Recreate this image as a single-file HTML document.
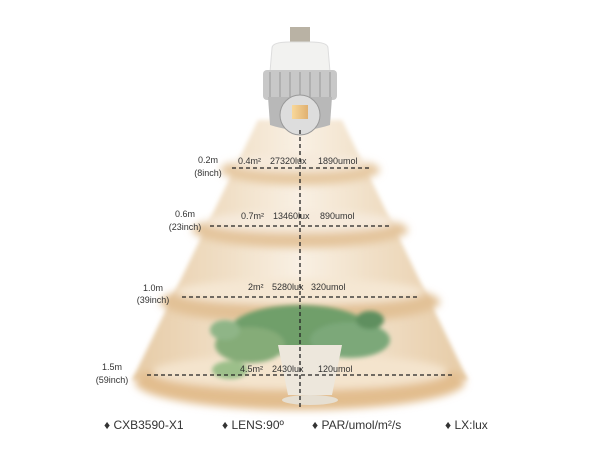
<!DOCTYPE html>
<html><head><meta charset="utf-8"><style>
body{margin:0;background:#fff}
svg{display:block;font-family:"Liberation Sans",sans-serif}
</style></head><body>
<svg width="600" height="450" viewBox="0 0 600 450">
<defs>
<linearGradient id="cone" x1="0" x2="1" y1="0" y2="0">
<stop offset="0" stop-color="#e6cba6"/><stop offset="0.3" stop-color="#f1e0c8"/><stop offset="0.5" stop-color="#f9f0e4"/><stop offset="0.7" stop-color="#f1e0c8"/><stop offset="1" stop-color="#e6cba6"/>
</linearGradient>
<linearGradient id="lens" x1="0" x2="1">
<stop offset="0" stop-color="#f8d89a"/><stop offset="1" stop-color="#e0b070"/>
</linearGradient>
<filter id="b" x="-20%" y="-50%" width="140%" height="200%"><feGaussianBlur stdDeviation="4"/></filter>
<filter id="b2" x="-20%" y="-50%" width="140%" height="200%"><feGaussianBlur stdDeviation="2"/></filter>
</defs>
<g filter="url(#b2)">
<polygon points="258,120 342,120 468,380 132,380" fill="url(#cone)"/>
</g>
<g filter="url(#b)">
<ellipse cx="300" cy="382" rx="165" ry="28" fill="#e2bd8e"/>
<ellipse cx="300" cy="372" rx="148" ry="18" fill="#f4e4cd"/>
<ellipse cx="300" cy="170" rx="80" ry="15" fill="#e6c9a2"/>
<ellipse cx="300" cy="163" rx="68" ry="9" fill="#f6eadb"/>
<ellipse cx="300" cy="230" rx="108" ry="18" fill="#e4c59c"/>
<ellipse cx="300" cy="222" rx="95" ry="11" fill="#f6eadb"/>
<ellipse cx="300" cy="302" rx="140" ry="22" fill="#e2c196"/>
<ellipse cx="300" cy="292" rx="125" ry="13" fill="#f5e7d3"/>
</g>
<!-- plant -->
<g filter="url(#b2)">
<ellipse cx="300" cy="330" rx="70" ry="25" fill="#6f9f6a"/>
<ellipse cx="250" cy="345" rx="35" ry="18" fill="#85ac78"/>
<ellipse cx="350" cy="340" rx="40" ry="18" fill="#7ca879"/>
<ellipse cx="225" cy="330" rx="15" ry="10" fill="#8fb587"/>
<ellipse cx="370" cy="320" rx="14" ry="9" fill="#5e8f5e"/>
<ellipse cx="230" cy="370" rx="18" ry="9" fill="#9cbf8a"/>
</g>
<path d="M278,345 L342,345 L332,395 L288,395 Z" fill="#ede7dc"/>
<ellipse cx="310" cy="400" rx="28" ry="5" fill="#e6dfd2"/>
<!-- lamp -->
<rect x="290" y="27" width="20" height="16" fill="#b9b2a4"/>
<path d="M272,48 Q272,42 290,42 L310,42 Q328,42 328,48 L330,72 L270,72 Z" fill="#f2f2f0" stroke="#ddd"/>
<rect x="263" y="70" width="74" height="30" rx="4" fill="#c8c8c8"/>
<g stroke="#999" stroke-width="1">
<line x1="270" y1="72" x2="270" y2="98"/><line x1="280" y1="72" x2="280" y2="98"/><line x1="290" y1="72" x2="290" y2="98"/><line x1="300" y1="72" x2="300" y2="98"/><line x1="310" y1="72" x2="310" y2="98"/><line x1="320" y1="72" x2="320" y2="98"/><line x1="330" y1="72" x2="330" y2="98"/>
</g>
<path d="M268,97 L332,97 L330,125 Q300,135 270,125 Z" fill="#b8b8b8"/>
<circle cx="300" cy="115" r="20" fill="#ddd" stroke="#999"/>
<rect x="292" y="105" width="16" height="14" fill="url(#lens)"/>
<!-- dashed lines -->
<g stroke="#222" stroke-width="1.3" stroke-dasharray="4,3" fill="none">
<line x1="300" y1="130" x2="300" y2="410"/>
<line x1="232" y1="168" x2="370" y2="168"/>
<line x1="210" y1="226" x2="390" y2="226"/>
<line x1="182" y1="297" x2="418" y2="297"/>
<line x1="147" y1="375" x2="455" y2="375"/>
</g>
<g font-size="9" fill="#333">
<text x="208" y="163" text-anchor="middle">0.2m</text><text x="208" y="176" text-anchor="middle">(8inch)</text>
<text x="185" y="217" text-anchor="middle">0.6m</text><text x="185" y="230" text-anchor="middle">(23inch)</text>
<text x="153" y="291" text-anchor="middle">1.0m</text><text x="153" y="303" text-anchor="middle">(39inch)</text>
<text x="112" y="370" text-anchor="middle">1.5m</text><text x="112" y="383" text-anchor="middle">(59inch)</text>
<text x="238" y="164">0.4m²  <tspan x="270">27320lux</tspan><tspan x="318">1890umol</tspan></text>
<text x="241" y="219">0.7m²<tspan x="273">13460lux</tspan><tspan x="320">890umol</tspan></text>
<text x="248" y="290">2m²<tspan x="272">5280lux</tspan><tspan x="311">320umol</tspan></text>
<text x="240" y="372">4.5m²<tspan x="272">2430lux</tspan><tspan x="318">120umol</tspan></text>
</g>
<g font-size="12" fill="#333">
<text x="104" y="429">♦ CXB3590-X1</text>
<text x="222" y="429">♦ LENS:90º</text>
<text x="312" y="429">♦ PAR/umol/m²/s</text>
<text x="445" y="429">♦ LX:lux</text>
</g>
</svg>
</body></html>
